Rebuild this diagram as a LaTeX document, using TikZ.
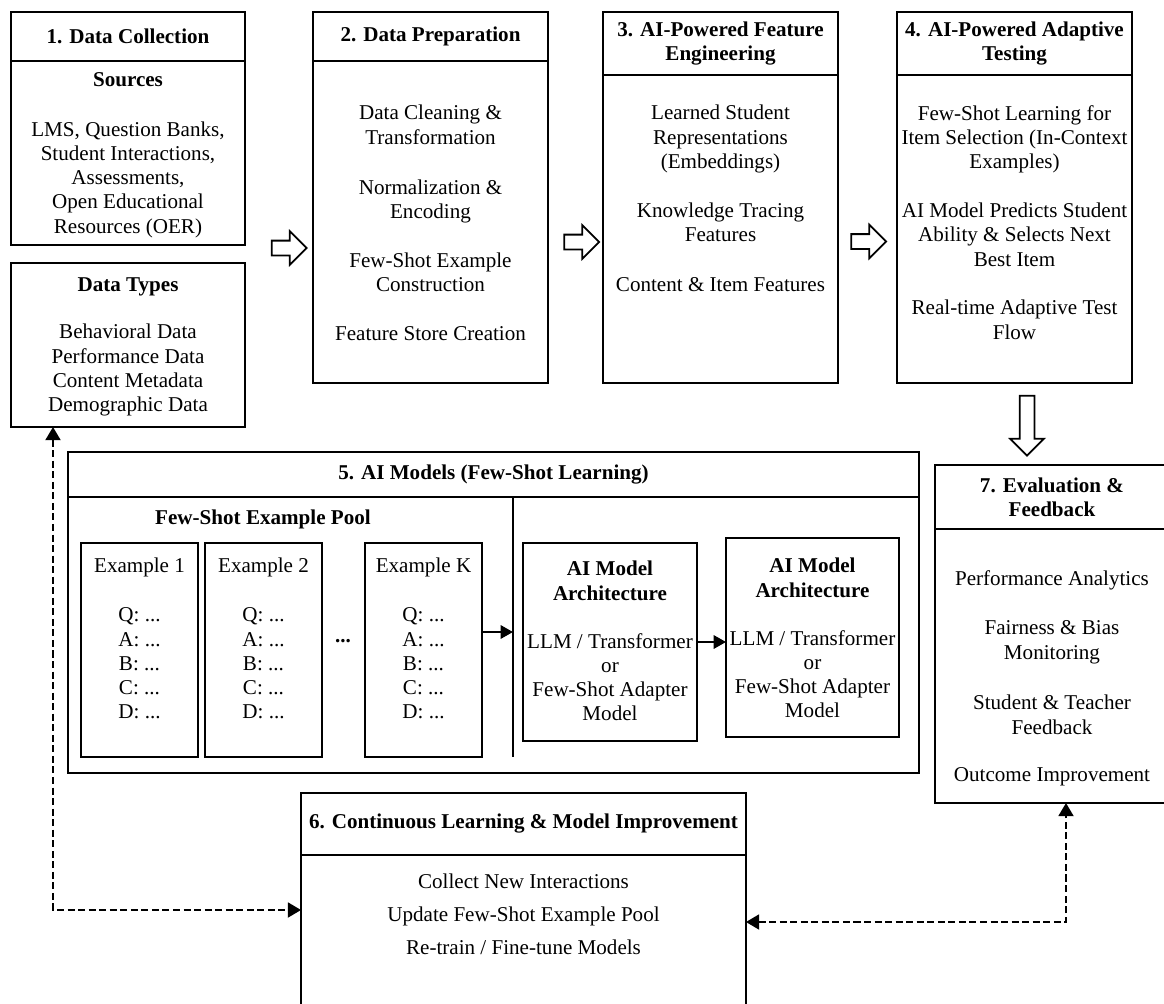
\documentclass[tikz,border=0pt]{standalone}
\usepackage{fontspec}
\setmainfont{Liberation Serif}
\usetikzlibrary{arrows.meta,shapes.arrows}

\begin{document}
\begin{tikzpicture}[x=0.02cm, y=-0.02cm,
  font=\fontsize{12}{13.8}\selectfont,
  panel/.style={draw, line width=1.4pt, inner sep=0pt, outer sep=0pt},
  hdr/.style={panel, align=center, font=\fontsize{12}{13.8}\selectfont\bfseries},
  body/.style={align=center, inner sep=0pt, anchor=north},
  hollow/.style={single arrow, draw, line width=1pt, inner sep=0.13cm, minimum width=0.64cm, single arrow head extend=0.19cm, minimum height=0.7cm},
  link/.style={line width=1.4pt, -{Triangle[length=7pt, width=7.5pt]}},
  dashlink/.style={line width=1.2pt, dash pattern=on 4pt off 2pt, {Triangle[length=7.5pt, width=8.5pt]}-{Triangle[length=7.5pt, width=8.5pt]}}]
\useasboundingbox (0,0) rectangle (1164,1004);

\node[hdr, minimum width=4.68cm, minimum height=0.98cm] (dch) at (128,36.5) {1. Data Collection};
\node[panel, minimum width=4.68cm, minimum height=3.68cm] (src) at (128,153) {};
\node[body] (srct) at (128,72) {\textbf{Sources}\\[14.6pt] LMS, Question Banks,\\ Student Interactions,\\ Assessments,\\ Open Educational\\ Resources (OER)};
\node[panel, minimum width=4.68cm, minimum height=3.28cm] (dt) at (128,345) {};
\node[body] (dtt) at (128,277) {\textbf{Data Types}\\[13.4pt] Behavioral Data\\ Performance Data\\ Content Metadata\\ Demographic Data};

\node[hdr, minimum width=4.7cm, minimum height=0.98cm] (dph) at (430.5,36.5) {2. Data Preparation};
\node[panel, minimum width=4.7cm, minimum height=6.44cm] (dp) at (430.5,222) {};
\node[body] (dpt) at (430.5,105) {Data Cleaning \&\\ Transformation\\[14.6pt] Normalization \&\\ Encoding\\[14pt] Few-Shot Example\\ Construction\\[14pt] Feature Store Creation};

\node[hdr, minimum width=4.7cm, minimum height=1.26cm] (feh) at (720.5,43.5) {3. AI-Powered Feature\\ Engineering};
\node[panel, minimum width=4.7cm, minimum height=6.16cm] (fe) at (720.5,229) {};
\node[body] (fet) at (720.5,105) {Learned Student\\ Representations\\ (Embeddings)\\[14pt] Knowledge Tracing\\ Features\\[14.5pt] Content \& Item Features};

\node[hdr, minimum width=4.7cm, minimum height=1.26cm] (ath) at (1014.5,43.5) {4. AI-Powered Adaptive\\ Testing};
\node[panel, minimum width=4.7cm, minimum height=6.16cm] (at) at (1014.5,229) {};
\node[body] (att) at (1014.5,105) {Few-Shot Learning for\\ Item Selection (In-Context\\ Examples)\\[14pt] AI Model Predicts Student\\ Ability \& Selects Next\\ Best Item\\[14pt] Real-time Adaptive Test\\ Flow};

\node[hollow] (a12) at (285.5,248) {};
\node[hollow] (a23) at (578,242) {};
\node[hollow] (a34) at (865,241.5) {};
\node[hollow, shape border rotate=270, minimum height=1.2cm] (a47) at (1027,422) {};

\node[hdr, minimum width=17.02cm, minimum height=0.9cm] (aih) at (493.5,474.5) {5. AI Models (Few-Shot Learning)};
\node[panel, minimum width=17.02cm, minimum height=5.52cm] (ai) at (493.5,635) {};
\coordinate (dvt) at (513,497);
\coordinate (dvb) at (513,757);
\coordinate (dvm) at (513,632);
\draw[line width=1.4pt] (dvt) -- (dvb);
\node[body, font=\fontsize{12}{13.8}\selectfont\bfseries] (pool) at (263,510) {Few-Shot Example Pool};

\node[panel, minimum width=2.34cm, minimum height=4.28cm] (ex1) at (139.5,650) {};
\node[body] (ex1t) at (139.5,558) {Example 1\\[14pt] Q: ...\\ A: ...\\ B: ...\\ C: ...\\ D: ...};
\node[panel, minimum width=2.34cm, minimum height=4.28cm] (ex2) at (263.5,650) {};
\node[body] (ex2t) at (263.5,558) {Example 2\\[14pt] Q: ...\\ A: ...\\ B: ...\\ C: ...\\ D: ...};
\node[inner sep=0pt] (dots) at (343,641) {\textbf{...}};
\node[panel, minimum width=2.34cm, minimum height=4.28cm] (exk) at (423.5,650) {};
\node[body] (exkt) at (423.5,558) {Example K\\[14pt] Q: ...\\ A: ...\\ B: ...\\ C: ...\\ D: ...};
\draw[link] (exk.east |- dvm) -- (dvm);

\node[panel, minimum width=3.48cm, minimum height=3.96cm] (m1) at (610,642) {};
\node[body] (m1t) at (610,561) {\textbf{AI Model}\\ \textbf{Architecture}\\[13.5pt] LLM / Transformer\\ or\\ Few-Shot Adapter\\ Model};
\node[panel, minimum width=3.46cm, minimum height=3.98cm] (m2) at (812.5,637.5) {};
\node[body] (m2t) at (812.5,558) {\textbf{AI Model}\\ \textbf{Architecture}\\[13.5pt] LLM / Transformer\\ or\\ Few-Shot Adapter\\ Model};
\draw[link] (m1.east) -- (m1.east -| m2.west);

\node[hdr, minimum width=4.68cm, minimum height=1.28cm] (evh) at (1052,497) {7. Evaluation \&\\ Feedback};
\node[panel, minimum width=4.68cm, minimum height=5.48cm] (ev) at (1052,666) {};
\node[body] (evt) at (1052,570) {Performance Analytics\\[14.5pt] Fairness \& Bias\\ Monitoring\\[15pt] Student \& Teacher\\ Feedback\\[13.5pt] Outcome Improvement};

\node[hdr, minimum width=8.9cm, minimum height=1.24cm] (clh) at (523.5,824) {6. Continuous Learning \& Model Improvement};
\node[panel, minimum width=8.9cm, minimum height=3.3cm] (cl) at (523.5,937.5) {};
\node[body] (clt) at (523.5,874) {Collect New Interactions\\[4.5pt] Update Few-Shot Example Pool\\[5pt] Re-train / Fine-tune Models};

\coordinate (lft) at (53,910);
\coordinate (rgt) at (1066,922);
\draw[dashlink] (dt.south -| lft) -- (lft) -- (cl.west |- lft);
\draw[dashlink] (cl.east |- rgt) -- (rgt) -- (ev.south -| rgt);
\end{tikzpicture}
\end{document}
